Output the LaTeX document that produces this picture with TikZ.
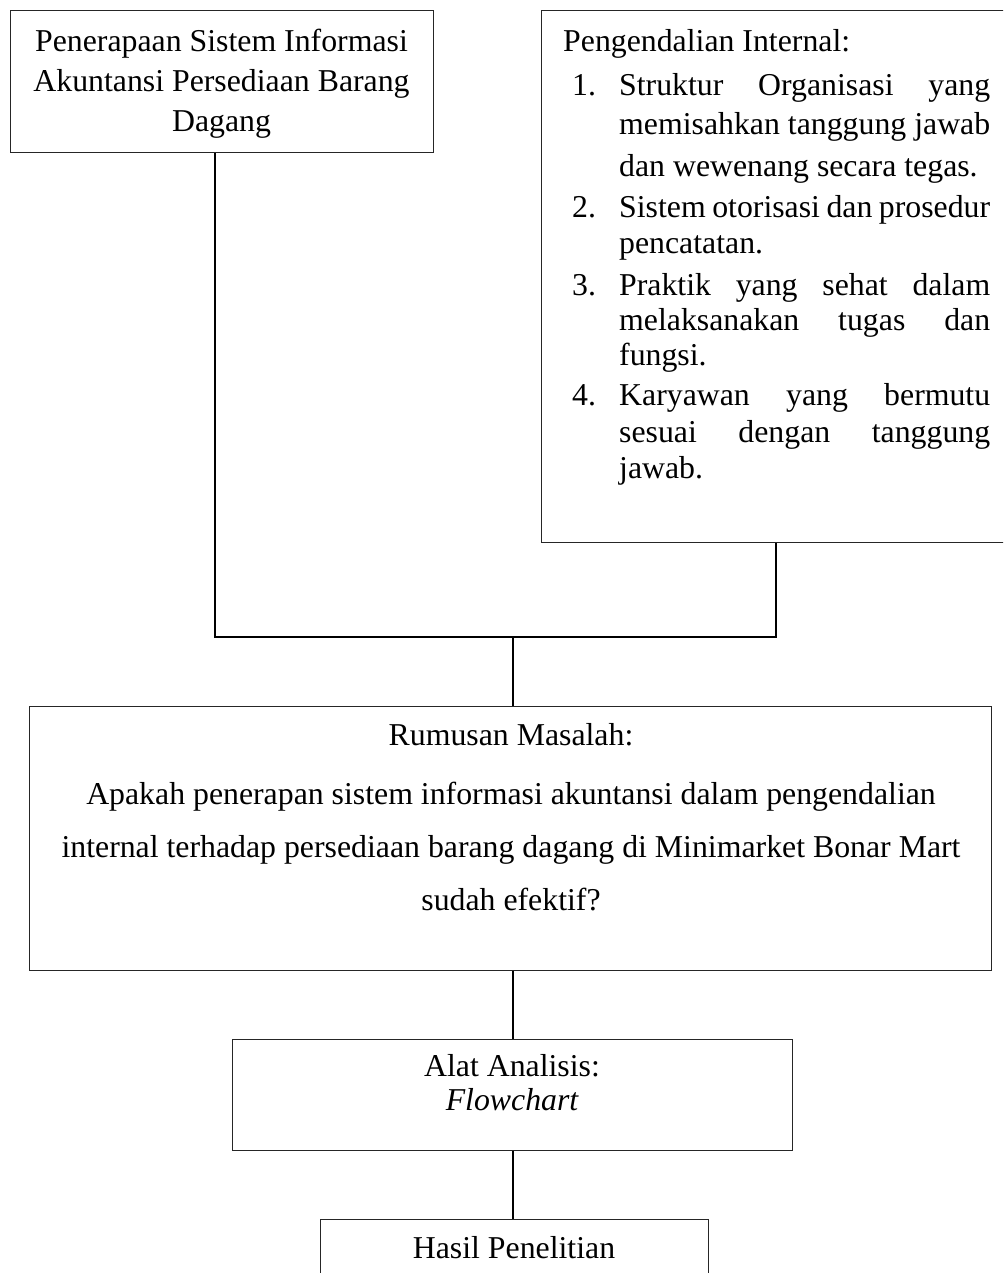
\documentclass[tikz,border=0pt]{standalone}
\usepackage{fontspec}
\setmainfont{Liberation Serif}
\begin{document}
\begin{tikzpicture}[x=1pt,y=-1pt,
  frame/.style={draw=black!85, line width=1.1pt, inner sep=0pt, anchor=north west},
  link/.style={draw=black, line width=1.6pt},
  txt/.style={inner sep=0pt, font=\fontsize{31.8}{38}\selectfont},
  line/.style={txt, anchor=base},
  lline/.style={txt, anchor=base west},
  jline/.style={txt, anchor=base west},
]
\path[use as bounding box, clip] (0,0) rectangle (1003,1273);

% frames
\node[frame, minimum width=423, minimum height=142] (sia) at (10,10) {};
\node[frame, minimum width=480, minimum height=532] (ik) at (541,10) {};
\node[frame, minimum width=962, minimum height=264] (rm) at (29,706) {};
\node[frame, minimum width=560, minimum height=111] (alat) at (232,1039) {};
\node[frame, minimum width=388, minimum height=90] (hasil) at (320,1219) {};

% left box text
\node[line] (sia1) at (221.5,52) {Penerapaan Sistem Informasi};
\node[line] (sia2) at (221.5,92) {Akuntansi Persediaan Barang};
\node[line] (sia3) at (221.5,132) {Dagang};

% internal control list
\newcommand{\jl}[1]{\makebox[371pt][s]{#1}}
\node[lline] (ikh) at (563,52) {Pengendalian Internal:};
\node[lline] (n1) at (572,96) {1.};
\node[jline] (a1) at (619,96) {\jl{Struktur Organisasi yang}};
\node[jline] (a2) at (619,135) {\jl{memisahkan tanggung jawab}};
\node[lline] (a3) at (619,177) {dan wewenang secara tegas.};
\node[lline] (n2) at (572,218) {2.};
\node[jline] (b1) at (619,218) {\jl{Sistem otorisasi dan prosedur}};
\node[lline] (b2) at (619,254) {pencatatan.};
\node[lline] (n3) at (572,295) {3.};
\node[jline] (c1) at (619,295) {\jl{Praktik yang sehat dalam}};
\node[jline] (c2) at (619,330) {\jl{melaksanakan tugas dan}};
\node[lline] (c3) at (619,365) {fungsi.};
\node[lline] (n4) at (572,405) {4.};
\node[jline] (d1) at (619,405) {\jl{Karyawan yang bermutu}};
\node[jline] (d2) at (619,442) {\jl{sesuai dengan tanggung}};
\node[lline] (d3) at (619,478) {jawab.};

% problem statement
\node[line] (rm1) at (511,745) {Rumusan Masalah:};
\node[line] (rm2) at (511,804) {Apakah penerapan sistem informasi akuntansi dalam pengendalian};
\node[line] (rm3) at (511,857) {internal terhadap persediaan barang dagang di Minimarket Bonar Mart};
\node[line] (rm4) at (511,910) {sudah efektif?};

% analysis tool
\node[line] (al1) at (512,1076) {Alat Analisis:};
\node[line] (al2) at (512,1110) {\itshape Flowchart};

% result
\node[line] (hs1) at (514,1258) {Hasil Penelitian};

% connectors
\coordinate (jl) at (215,637);
\coordinate (jr) at (776,637);
\coordinate (jm) at (513,637);
\draw[link] (sia.south -| jl) -- (jl) -- (jr) -- (ik.south -| jr);
\draw[link] (jm) -- (rm.north -| jm);
\draw[link] (rm.south -| jm) -- (alat.north -| jm);
\draw[link] (alat.south -| jm) -- (hasil.north -| jm);
\end{tikzpicture}
\end{document}
